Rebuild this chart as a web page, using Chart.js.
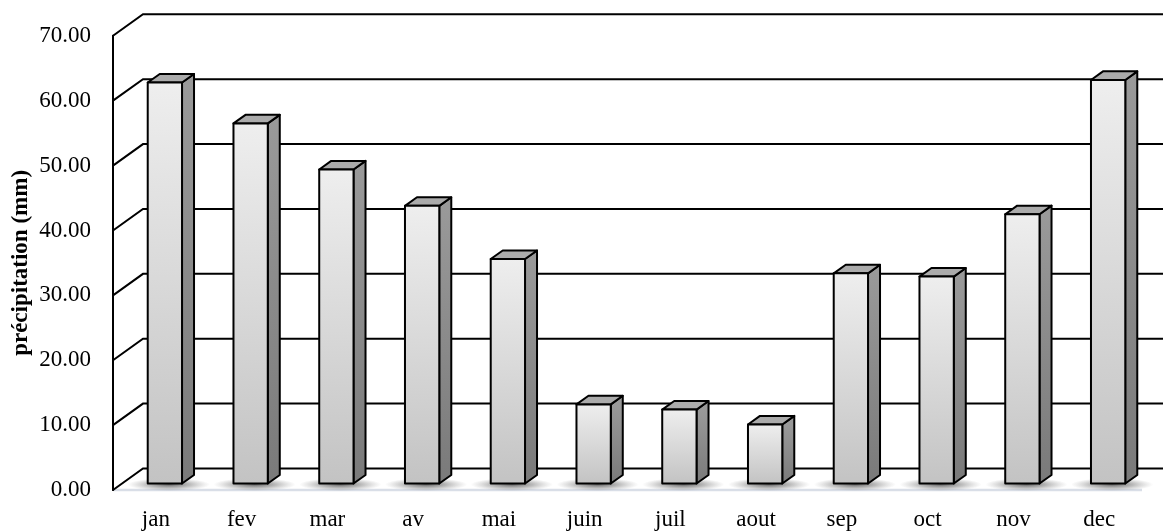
<!DOCTYPE html>
<html>
<head>
<meta charset="utf-8">
<style>
  html, body { margin: 0; padding: 0; background: #ffffff; overflow: hidden; }
  canvas { display: block; }
</style>
<script src="https://cdn.jsdelivr.net/npm/chart.js@4/dist/chart.umd.min.js"></script>
</head>
<body>
<canvas id="chart" width="1163" height="532"></canvas>
<script>
// Monthly precipitation (mm)
const months = ['jan', 'fev', 'mar', 'av', 'mai', 'juin', 'juil', 'aout', 'sep', 'oct', 'nov', 'dec'];
const precipitation = [61.8, 55.5, 48.4, 42.8, 34.6, 12.2, 11.4, 9.1, 32.4, 31.9, 41.5, 62.2];

// Value axis
const axisMin = 0;
const axisMax = 70;
const axisStep = 10;
const axisTitle = 'précipitation (mm)';

const FONT = "'Liberation Serif', 'Times New Roman', serif";

// Perspective: offset of the back wall relative to the front plane
const DEPTH_X = 30;
const DEPTH_Y = -21.5;
// Bars sit between these fractions of the depth
const BAR_FRONT = 0.3;
const BAR_BACK = 0.7;

const box3d = {
  id: 'box3d',
  beforeDatasetsDraw(chart) {
    const { ctx, chartArea: a, scales: { y } } = chart;
    ctx.save();

    // floor front edge
    ctx.strokeStyle = '#d9dee7';
    ctx.lineWidth = 2.5;
    ctx.beginPath();
    ctx.moveTo(a.left, a.bottom);
    ctx.lineTo(a.right, a.bottom);
    ctx.stroke();

    // back wall gridlines, side wall diagonals
    ctx.strokeStyle = '#000';
    ctx.lineWidth = 2;
    ctx.lineCap = 'round';
    y.ticks.forEach(t => {
      const py = y.getPixelForValue(t.value);
      ctx.beginPath();
      ctx.moveTo(a.left, py);
      ctx.lineTo(a.left + DEPTH_X, py + DEPTH_Y);
      ctx.lineTo(chart.width + 5, py + DEPTH_Y);
      ctx.stroke();
    });
    // front vertical edge of the side wall
    ctx.beginPath();
    ctx.moveTo(a.left, y.getPixelForValue(axisMax));
    ctx.lineTo(a.left, y.getPixelForValue(axisMin));
    ctx.stroke();

    // soft shadows on the floor
    const meta = chart.getDatasetMeta(0);
    meta.data.forEach(el => {
      const p = el.getProps(['x', 'width', 'base'], true);
      const cx = p.x + BAR_FRONT * DEPTH_X + 4;
      const cy = p.base + BAR_FRONT * DEPTH_Y + 1;
      const rx = p.width * 1.2;
      const ry = 6.5;
      ctx.save();
      ctx.translate(cx, cy);
      ctx.scale(1, ry / rx);
      const g = ctx.createRadialGradient(0, 0, 0, 0, 0, rx);
      g.addColorStop(0, 'rgba(50,50,50,0.75)');
      g.addColorStop(0.5, 'rgba(80,80,80,0.4)');
      g.addColorStop(1, 'rgba(120,120,120,0)');
      ctx.fillStyle = g;
      ctx.beginPath();
      ctx.arc(0, 0, rx, 0, Math.PI * 2);
      ctx.fill();
      ctx.restore();
    });
    ctx.restore();
  },
  afterDatasetsDraw(chart) {
    const { ctx } = chart;
    const meta = chart.getDatasetMeta(0);
    const dx = (BAR_BACK - BAR_FRONT) * DEPTH_X;
    const dy = (BAR_BACK - BAR_FRONT) * DEPTH_Y;
    ctx.save();
    ctx.lineWidth = 2;
    ctx.lineJoin = 'round';
    ctx.strokeStyle = '#000';
    meta.data.forEach(el => {
      const p = el.getProps(['x', 'y', 'base', 'width'], true);
      const x0 = p.x - p.width / 2 + BAR_FRONT * DEPTH_X;
      const x1 = x0 + p.width;
      const yt = p.y + BAR_FRONT * DEPTH_Y;
      const yb = p.base + BAR_FRONT * DEPTH_Y;

      // right side face
      const gs = ctx.createLinearGradient(0, yt, 0, yb);
      gs.addColorStop(0, '#999999');
      gs.addColorStop(1, '#7a7a7a');
      ctx.fillStyle = gs;
      ctx.beginPath();
      ctx.moveTo(x1, yt);
      ctx.lineTo(x1 + dx, yt + dy);
      ctx.lineTo(x1 + dx, yb + dy);
      ctx.lineTo(x1, yb);
      ctx.closePath();
      ctx.fill();
      ctx.stroke();

      // top face
      ctx.fillStyle = '#ababab';
      ctx.beginPath();
      ctx.moveTo(x0, yt);
      ctx.lineTo(x0 + dx, yt + dy);
      ctx.lineTo(x1 + dx, yt + dy);
      ctx.lineTo(x1, yt);
      ctx.closePath();
      ctx.fill();
      ctx.stroke();

      // front face
      const gf = ctx.createLinearGradient(0, yt, 0, yb);
      gf.addColorStop(0, '#eeeeee');
      gf.addColorStop(1, '#c3c3c3');
      ctx.fillStyle = gf;
      ctx.beginPath();
      ctx.rect(x0, yt, x1 - x0, yb - yt);
      ctx.fill();
      ctx.stroke();
    });
    ctx.restore();
  }
};

new Chart(document.getElementById('chart'), {
  type: 'bar',
  data: {
    labels: months,
    datasets: [{
      data: precipitation,
      backgroundColor: 'rgba(0,0,0,0)',
      borderWidth: 0,
      categoryPercentage: 1,
      barPercentage: 0.4
    }]
  },
  options: {
    responsive: false,
    devicePixelRatio: 1,
    animation: false,
    layout: { padding: { top: 34, right: 21, left: 0, bottom: 0 } },
    plugins: {
      legend: { display: false },
      tooltip: { enabled: false }
    },
    scales: {
      x: {
        grid: { display: false, drawTicks: false },
        border: { display: false },
        ticks: {
          font: { family: FONT, size: 23 },
          color: '#000',
          padding: 16,
          maxRotation: 0,
          autoSkip: false
        },
        afterFit(scale) { scale.height = 42; }
      },
      y: {
        min: axisMin,
        max: axisMax,
        grid: { display: false, drawTicks: false },
        border: { display: false },
        ticks: {
          stepSize: axisStep,
          callback: v => Number(v).toFixed(2),
          font: { family: FONT, size: 23 },
          color: '#000',
          padding: 22
        },
        title: {
          display: true,
          text: axisTitle,
          font: { family: FONT, size: 23, weight: 'bold' },
          color: '#000',
          padding: { top: 7, bottom: 0 }
        },
        afterFit(scale) { scale.width = 113; }
      }
    }
  },
  plugins: [box3d]
});
</script>
</body>
</html>
